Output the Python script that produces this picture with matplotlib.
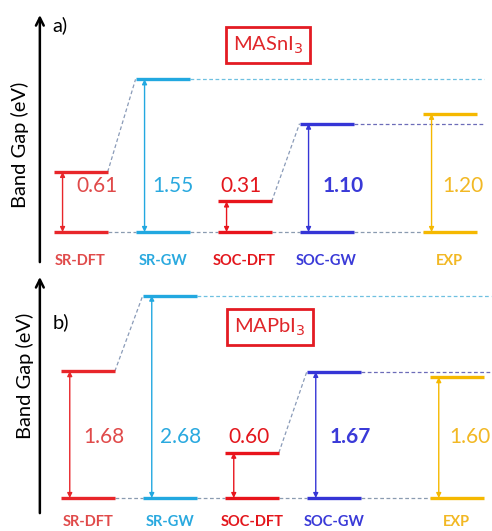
import matplotlib
matplotlib.use("Agg")
import matplotlib.pyplot as plt

plt.rcParams['font.family'] = ['Lato', 'DejaVu Sans']

# data
methods = ['SR-DFT', 'SR-GW', 'SOC-DFT', 'SOC-GW', 'EXP']
x_pos = [0, 1, 2, 3, 4.5]
gap_masni3 = [0.61, 1.55, 0.31, 1.10, 1.20]
gap_mapbi3 = [1.68, 2.68, 0.60, 1.67, 1.60]

level_col = ['#e8262a', '#22a8e0', '#e8141c', '#3535d6', '#f5b800']
text_col = ['#e04a4a', '#2aa9df', '#e3161c', '#3a3ad8', '#f2b824']
bold_val = [False, False, False, True, False]
val_dx = [0.2, 0.13, -0.04, 0.2, 0.16]
half_w = 0.33
px_unit = 82.0

fig = plt.figure(figsize=(4.92, 5.31), dpi=100)


def panel(ax, gaps, name, letter, x0, base, scale, row_top, row_bot,
          arrow_y, ylab_xy, letter_y, box_xy, lab_off):
    ax.set_xlim(-x0 / px_unit, (492 - x0) / px_unit)
    ax.set_ylim((base - row_bot) / scale, (base - row_top) / scale)
    ax.axis('off')

    right = x_pos[-1] + 0.42
    gap_top = max(gaps)
    # baseline dashes between the levels
    for i in range(len(methods) - 1):
        ax.plot([x_pos[i] + half_w, x_pos[i + 1] - half_w], [0, 0],
                ls=(0, (3, 2)), lw=0.9, color='#8a9bb0', zorder=1)
    # slanted connectors
    for i in (0, 2):
        ax.plot([x_pos[i] + half_w, x_pos[i + 1] - half_w], [gaps[i], gaps[i + 1]],
                ls=(0, (3, 2)), lw=0.9, color='#8a9bb8', zorder=1)
    ax.plot([x_pos[1] + half_w, right], [gaps[1], gaps[1]],
            ls=(0, (3, 2)), lw=0.9, color='#6fc0e0', zorder=1)
    ax.plot([x_pos[3] + half_w, right], [gaps[3], gaps[3]],
            ls=(0, (3, 2)), lw=0.9, color='#6c6cb8', zorder=1)

    for i, m in enumerate(methods):
        x = x_pos[i]
        g = gaps[i]
        c = level_col[i]
        ax.plot([x - half_w, x + half_w], [0, 0], color=c, lw=2.4,
                solid_capstyle='butt', zorder=3)
        ax.plot([x - half_w, x + half_w], [g, g], color=c, lw=2.4,
                solid_capstyle='butt', zorder=3)
        ax.annotate('', xy=(x - 0.22, g), xytext=(x - 0.22, 0),
                    arrowprops=dict(arrowstyle='<|-|>', color=c, lw=1.0,
                                    mutation_scale=7, shrinkA=0, shrinkB=0))
        ax.text(x + val_dx[i], 0.3 * gap_top, f'{g:.2f}', color=text_col[i],
                fontsize=15, ha='center', va='center',
                fontweight='bold' if bold_val[i] else 'normal')
        ax.annotate(m, xy=(x, 0), xytext=(0, lab_off), textcoords='offset points',
                    ha='center', va='center', fontsize=10.5, fontweight='bold',
                    color=text_col[i])

    ax.annotate('', xy=(0.081, arrow_y[1]), xytext=(0.081, arrow_y[0]),
                xycoords='axes fraction', textcoords='axes fraction',
                arrowprops=dict(arrowstyle='->', color='black', lw=1.8,
                                mutation_scale=14, shrinkA=0, shrinkB=0))
    ax.text(ylab_xy[0], ylab_xy[1], 'Band Gap (eV)', transform=ax.transAxes,
            rotation=90, ha='center', va='center', fontsize=14.5)
    ax.text(0.106, letter_y, letter, transform=ax.transAxes, ha='left',
            va='center', fontsize=14.5)
    ax.text(box_xy[0], box_xy[1], name, transform=ax.transAxes, ha='center',
            va='center', fontsize=14.5, color='#e0262a',
            bbox=dict(boxstyle='square,pad=0.35', fc='white', ec='#e31b23', lw=2))


ax_a = fig.add_axes([0, 263 / 531, 1, 268 / 531])
ax_b = fig.add_axes([0, 0, 1, 263 / 531])

panel(ax_a, gap_masni3, r'MASnI$_3$', 'a)', 80.6, 232, 98.5, 0, 268,
      (0.022, 0.944), (0.041, 0.459), 0.907, (0.545, 0.832), -21)
panel(ax_b, gap_mapbi3, r'MAPbI$_3$', 'b)', 87.8, 498, 75.5, 268, 531,
      (0.068, 0.966), (0.051, 0.589), 0.795, (0.549, 0.776), -17.5)

fig.savefig('out.png', dpi=100)
